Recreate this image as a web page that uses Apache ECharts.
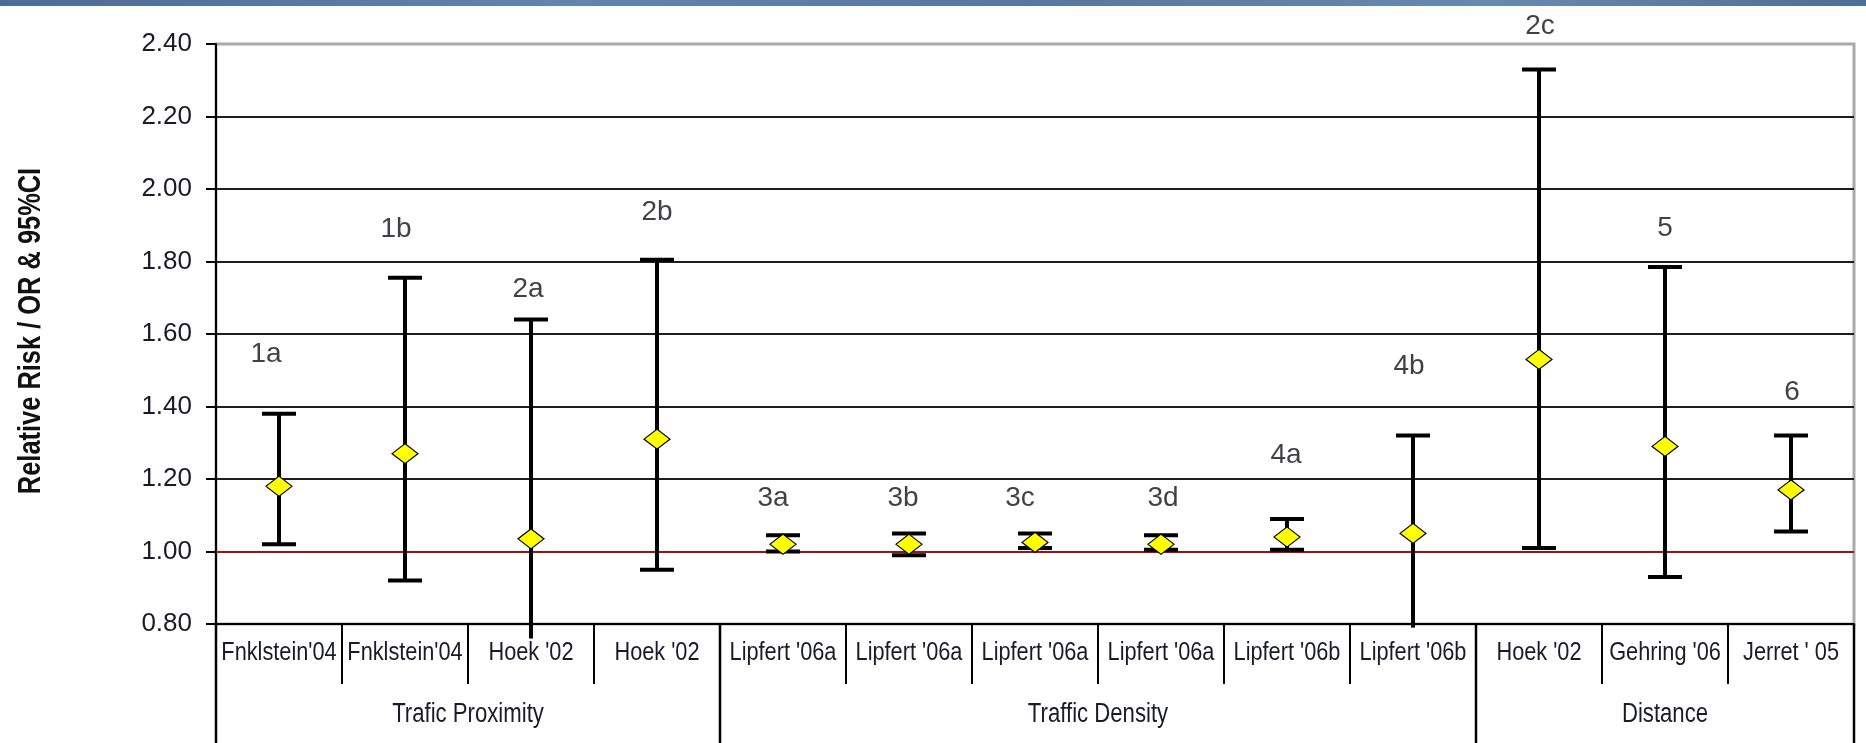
<!DOCTYPE html>
<html>
<head>
<meta charset="utf-8">
<script src="https://cdn.jsdelivr.net/npm/echarts@6/dist/echarts.min.js"></script>
<style>
  html, body { margin: 0; padding: 0; background: #ffffff; }
  #chart { width: 1866px; height: 743px; }
</style>
</head>
<body>
<div id="chart"></div>
<script>
// Study labels along the category axis
const studies = [
  "Fnklstein'04", "Fnklstein'04", "Hoek '02", "Hoek '02",
  "Lipfert '06a", "Lipfert '06a", "Lipfert '06a", "Lipfert '06a",
  "Lipfert '06b", "Lipfert '06b",
  "Hoek '02", "Gehring '06", "Jerret ' 05"
];
// Reference tags written above each estimate
const tags = ["1a", "1b", "2a", "2b", "3a", "3b", "3c", "3d", "4a", "4b", "2c", "5", "6"];
// Point estimates (RR / OR)
const estimate = [1.18, 1.27, 1.035, 1.31, 1.02, 1.02, 1.025, 1.02, 1.04, 1.05, 1.53, 1.29, 1.17];
// 95% confidence interval bounds
const ciLow  = [1.02, 0.92, 0.76, 0.95, 1.00, 0.99, 1.01, 1.005, 1.005, 0.79, 1.01, 0.93, 1.055];
const ciHigh = [1.38, 1.755, 1.64, 1.805, 1.045, 1.05, 1.05, 1.045, 1.09, 1.32, 2.33, 1.785, 1.32];
// Height (in RR units) at which each tag is written
const tagLevel = [1.544, 1.889, 1.724, 1.937, 1.147, 1.147, 1.147, 1.147, 1.265, 1.51, 2.45, 1.893, 1.44];
// Exposure groupings spanning the studies
const groupNames = ["Trafic Proximity", "Traffic Density", "Distance"];
const groupSizes = [4, 6, 3];
// Value axis range
const Y_MIN = 0.8, Y_MAX = 2.4, Y_STEP = 0.2;
const NULL_VALUE = 1.0;
const Y_TITLE = 'Relative Risk / OR & 95%CI';

// Layout / style constants
const tagShift = [-13, -9, -3, 0, -10, -6, -15, 2, -1, -4, 1, 0, 1];
const FONT = "'Liberation Sans',Arial,sans-serif";
const SQUEEZE = 0.82;          // horizontal squeeze for the narrow-style labels
const CAP_W = 34;
const BAR_W = 4;
const TEXT = '#000000';

const chart = echarts.init(document.getElementById('chart'), null, { renderer: 'canvas' });

const nGrid = Math.round((Y_MAX - Y_MIN) / Y_STEP) + 1;
const gridColors = [];
for (let i = 0; i < nGrid; i++) gridColors.push(i === nGrid - 1 ? '#a9a9a9' : '#1e1e1e');

const ciData = studies.map((s, i) => [i, ciLow[i], ciHigh[i]]);
const pointData = studies.map((s, i) => [i, estimate[i]]);
const tagData = studies.map((s, i) => ({
  value: [i, tagLevel[i]],
  label: { offset: [tagShift[i], 0] }
}));

const option = {
  backgroundColor: '#ffffff',
  animation: false,
  grid: {
    left: 216, right: 12, top: 44, bottom: 119,
    show: true, borderColor: '#a9a9a9', borderWidth: 3, backgroundColor: 'transparent'
  },
  xAxis: {
    type: 'category',
    data: studies,
    boundaryGap: true,
    axisLine: { show: true, lineStyle: { color: '#000', width: 2 } },
    axisTick: { show: true, interval: 0, length: 60, lineStyle: { color: '#000', width: 2 } },
    axisLabel: { show: false },
    splitLine: { show: false }
  },
  yAxis: {
    type: 'value',
    min: Y_MIN, max: Y_MAX, interval: Y_STEP,
    axisLine: { show: true, lineStyle: { color: '#000', width: 2 } },
    axisTick: { show: true, length: 10, lineStyle: { color: '#000', width: 2 } },
    axisLabel: {
      margin: 24,
      fontFamily: FONT, fontSize: 26, color: '#1a1a2a',
      formatter: v => v.toFixed(2)
    },
    splitLine: { show: true, lineStyle: { color: gridColors, width: 2 } }
  },
  series: [
    {
      name: 'CI',
      type: 'custom',
      clip: false,
      z: 3,
      data: ciData,
      encode: { x: 0, y: [1, 2] },
      renderItem: function (params, api) {
        const x = api.value(0), lo = api.value(1), hi = api.value(2);
        const top = api.coord([x, hi]);
        const bot = api.coord([x, lo]);
        const half = CAP_W / 2;
        const st = { stroke: '#000', lineWidth: BAR_W };
        const children = [
          { type: 'line', shape: { x1: top[0], y1: top[1], x2: bot[0], y2: bot[1] }, style: st },
          { type: 'line', shape: { x1: top[0] - half, y1: top[1], x2: top[0] + half, y2: top[1] }, style: st }
        ];
        if (lo >= Y_MIN) {
          children.push({ type: 'line', shape: { x1: bot[0] - half, y1: bot[1], x2: bot[0] + half, y2: bot[1] }, style: st });
        }
        return { type: 'group', children: children };
      }
    },
    {
      name: 'Estimate',
      type: 'scatter',
      z: 5,
      symbol: 'diamond',
      symbolSize: [26, 20],
      itemStyle: { color: '#ffff00', borderColor: '#000', borderWidth: 1.2, opacity: 1 },
      data: pointData,
      markLine: {
        silent: true,
        symbol: ['none', 'none'],
        label: { show: false },
        lineStyle: { color: '#a01010', width: 2, type: 'solid' },
        data: [{ yAxis: NULL_VALUE }],
        z: 2
      }
    },
    {
      name: 'Tags',
      type: 'scatter',
      clip: false,
      z: 6,
      symbolSize: 0,
      silent: true,
      data: tagData,
      label: {
        show: true,
        position: 'inside',
        formatter: p => tags[p.dataIndex],
        fontFamily: FONT, fontSize: 28, color: '#10101c'
      }
    }
  ]
};

chart.setOption(option);

// Study names, group separators, group names and the value-axis title
function drawFrameText() {
  const c0 = chart.convertToPixel({ xAxisIndex: 0 }, 0);
  const c1 = chart.convertToPixel({ xAxisIndex: 0 }, 1);
  const band = c1 - c0;
  const yBase = chart.convertToPixel({ yAxisIndex: 0 }, Y_MIN);
  const yTop = chart.convertToPixel({ yAxisIndex: 0 }, Y_MAX);
  const yEnd = chart.getHeight();
  const elements = [];

  studies.forEach((name, i) => {
    elements.push({
      type: 'text', silent: true, z: 10,
      x: chart.convertToPixel({ xAxisIndex: 0 }, i), y: yBase + 29,
      scaleX: SQUEEZE,
      style: {
        text: name, fill: '#1a1a2a', font: '26.5px ' + FONT,
        textAlign: 'center', textVerticalAlign: 'middle'
      }
    });
  });

  let start = 0;
  const edges = [start];
  groupSizes.forEach(n => { start += n; edges.push(start); });
  edges.forEach(b => {
    const x = c0 + (b - 0.5) * band;
    elements.push({
      type: 'line', silent: true, z: 10,
      shape: { x1: x, y1: yBase, x2: x, y2: yEnd },
      style: { stroke: '#000', lineWidth: 2.5 }
    });
  });
  groupNames.forEach((name, g) => {
    const xa = c0 + (edges[g] - 0.5) * band;
    const xb = c0 + (edges[g + 1] - 0.5) * band;
    elements.push({
      type: 'text', silent: true, z: 10,
      x: (xa + xb) / 2, y: yBase + 91,
      scaleX: SQUEEZE,
      style: {
        text: name, fill: '#1a1a2a', font: '27px ' + FONT,
        textAlign: 'center', textVerticalAlign: 'middle'
      }
    });
  });

  elements.push({
    type: 'text', silent: true, z: 10,
    x: 31, y: (yBase + yTop) / 2 - 3,
    rotation: Math.PI / 2,
    scaleX: SQUEEZE,
    style: {
      text: Y_TITLE, fill: '#111', font: 'bold 31px ' + FONT,
      textAlign: 'center', textVerticalAlign: 'middle'
    }
  });

  // slate band along the top edge
  elements.push({
    type: 'rect', silent: true, z: 0,
    shape: { x: 0, y: 0, width: chart.getWidth(), height: 6 },
    style: {
      fill: new echarts.graphic.LinearGradient(0, 0, 1, 0, [
        { offset: 0, color: '#4d6b94' },
        { offset: 0.3, color: '#6384ad' },
        { offset: 0.55, color: '#56779f' },
        { offset: 0.8, color: '#6a89b0' },
        { offset: 1, color: '#4f6e97' }
      ])
    }
  });
  chart.setOption({ graphic: { elements: elements } });
}
drawFrameText();
</script>
</body>
</html>
